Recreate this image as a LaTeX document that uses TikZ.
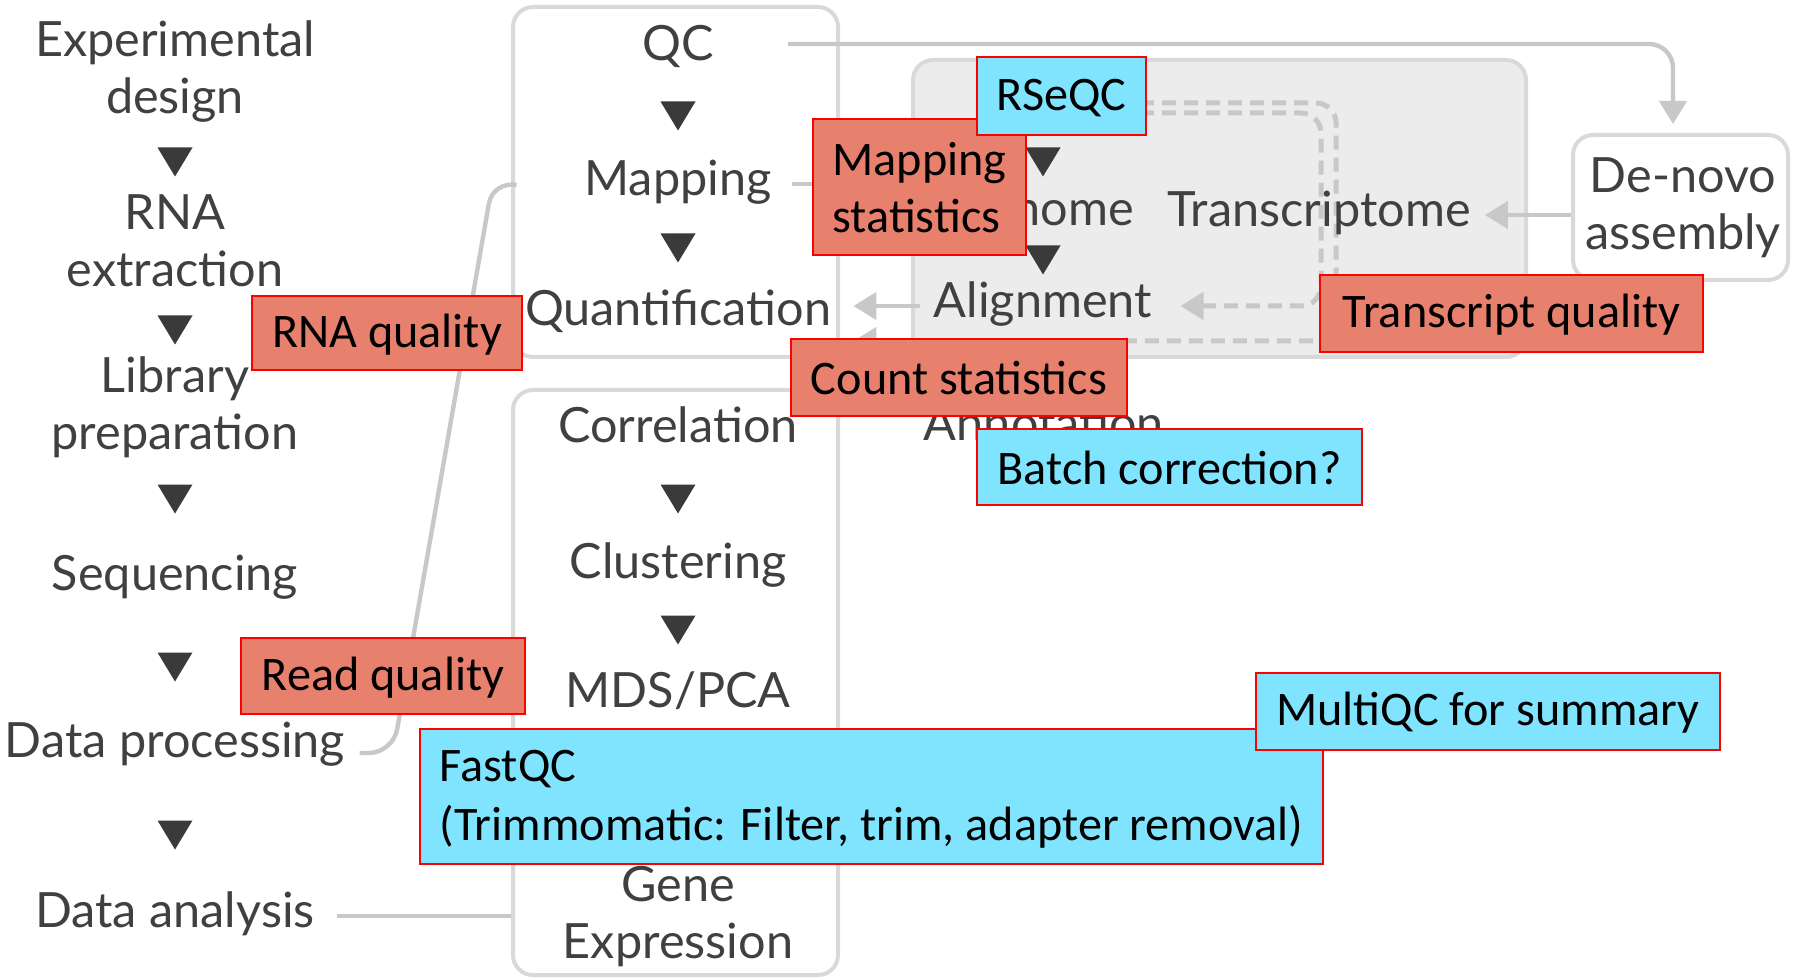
\documentclass[tikz,border=0pt]{standalone}
\usepackage{fontspec}
\setmainfont{Lato}
\newfontfamily\lblfont{Carlito}
\usetikzlibrary{arrows.meta}
\definecolor{txtgray}{HTML}{404040}
\definecolor{trigray}{HTML}{3A3A3A}
\definecolor{lngray}{HTML}{C8C8C8}
\definecolor{pnlborder}{HTML}{D9D9D9}
\definecolor{pnlfill}{HTML}{ECECEC}
\definecolor{salmon}{HTML}{E8806E}
\definecolor{skyc}{HTML}{80E4FF}
\definecolor{boxred}{HTML}{FF0000}
\pgfdeclarelayer{panels}
\pgfdeclarelayer{dashes}
\pgfsetlayers{panels,dashes,main}
\newcommand\lstrut{\rule[-0.6pt]{0pt}{18.6pt}}
\tikzset{dtri/.pic={\fill[trigray] (-17.5,-14.5) -- (17.5,-14.5) -- (0,14.5) -- cycle;}}
\begin{document}
\begin{tikzpicture}[x=0.5pt,y=-0.5pt,
  gtext/.style={text=txtgray, font=\fontsize{24.3}{28.5}\selectfont, align=center, inner sep=7pt},
  panel/.style={draw=pnlborder, line width=2pt, rounded corners=10pt, inner sep=0pt},
  lab/.style={draw=boxred, line width=1.3pt, text=black, font=\lblfont\fontsize{24.1}{28.5}\selectfont, inner sep=0pt, align=center},
  redlab/.style={lab, fill=salmon},
  bluelab/.style={lab, fill=skyc},
  conn/.style={draw=lngray, line width=2.2pt},
  arr/.style={conn, -{Triangle[length=11.5pt,width=13.5pt]}},
  dconn/.style={arr, dash pattern=on 7pt off 4pt, line width=2.5pt}
]
\useasboundingbox (0,0) rectangle (1798,978);

% panels
\begin{pgfonlayer}{panels}
\node[panel, minimum width=162.5pt, minimum height=175pt] (qcbox) at (675.5,182) {};
\node[panel, minimum width=162.5pt, minimum height=292.5pt] (anbox) at (675.5,682.5) {};
\node[panel, fill=pnlfill, minimum width=306.5pt, minimum height=148.5pt] (gbox) at (1219.5,208.5) {};
\node[panel, fill=white, minimum width=107.5pt, minimum height=72.5pt] (dnbox) at (1680.5,207.5) {};
\end{pgfonlayer}

% left column
\node[gtext] (expd) at (175,74) {\strut Experimental\\\strut design};
\pic at (175,162) {dtri};
\node[gtext] (rna) at (175,247) {\strut RNA\\\strut extraction};
\pic at (175,330) {dtri};
\node[gtext] (lib) at (175,410) {\strut Library\\\strut preparation};
\pic at (175,499) {dtri};
\node[gtext] (seq) at (175,579) {\strut Sequencing};
\pic at (175,667) {dtri};
\node[gtext] (dp) at (175,746) {\strut Data processing};
\pic at (175,835) {dtri};
\node[gtext] (da) at (175,916) {\strut Data analysis};

% middle column
\node[gtext] (qc) at (678,49) {\strut QC};
\pic at (678,116) {dtri};
\node[gtext] (mapping) at (678,184) {\strut Mapping};
\pic at (678,248) {dtri};
\node[gtext] (quant) at (678,314) {\strut Quantification};
\node[gtext] (corr) at (678,431) {\strut Correlation};
\pic at (678,499) {dtri};
\node[gtext] (clust) at (678,567) {\strut Clustering};
\pic at (678,630) {dtri};
\node[gtext] (mds) at (678,696) {\strut MDS/PCA};
\node[gtext] (gene) at (678,919) {\strut Gene\\\strut Expression};

% grey panel
\node[gtext] (genome) at (1043,214) {\strut Genome};
\node[gtext] (transc) at (1319,215) {\strut Transcriptome};
\pic at (1043,162) {dtri};
\pic at (1043,260) {dtri};
\node[gtext] (alignm) at (1043,306) {\strut Alignment};
\node[gtext] (annot) at (1044,429) {\strut Annotation};

% de-novo
\node[gtext] (denovo) at (1683,210) {\strut De-novo\\\strut assembly};

% connectors
\coordinate (qtip) at ([xshift=4pt]quant.east);
\coordinate (y341) at (0,341);
\coordinate (d1start) at (1140,113);
\coordinate (d2start) at (1140,103);
\coordinate (qcs) at ([xshift=30pt,yshift=2.5pt]qc.east);
\coordinate (qcdown) at (1673,0);

\draw[conn, rounded corners=12pt] ([yshift=-3.5pt]dp.east) -- (393,753) -- (493,180) -- (qcbox.west |- mapping.west);
\draw[conn] ([xshift=3pt]mapping.east) -- (gbox.west |- mapping.east);
\draw[arr, rounded corners=12pt] (qcs) -- (qcs -| qcdown) -- ([yshift=4.5pt]dnbox.north -| qcdown);
\draw[arr] (dnbox.west |- transc.east) -- (transc.east);
\draw[arr] (alignm.west) -- (alignm.west -| qtip);
\draw[conn] ([xshift=4pt]da.east) -- (anbox.west |- da.east);
\begin{pgfonlayer}{dashes}
\draw[dconn, rounded corners=10pt] (d1start) -- (1321,113) -- (1321,306) -- ([xshift=7pt]alignm.east);
\draw[dconn, rounded corners=10pt] (d2start) -- (1336,103) -- (1336,341) -- (qtip |- y341);
\end{pgfonlayer}

% labels
\node[redlab, minimum width=106.5pt, minimum height=68pt, align=left] (mapst) at (919.5,187) {\lstrut Mapping\\\lstrut statistics};
\node[bluelab, minimum width=84.5pt, minimum height=39pt] (rseqc) at (1061.5,96) {\lstrut RSeQC};
\node[redlab, minimum width=191.5pt, minimum height=38.5pt] (trq) at (1511.5,313.5) {\lstrut Transcript quality};
\node[redlab, minimum width=168pt, minimum height=38.5pt] (cnt) at (959,377.5) {\lstrut Count statistics};
\node[redlab, minimum width=135pt, minimum height=37pt] (rnaq) at (387,333) {\lstrut RNA quality};
\node[bluelab, minimum width=192.5pt, minimum height=38pt] (batch) at (1169.5,467) {\lstrut Batch correction?};
\node[redlab, minimum width=142pt, minimum height=38pt] (readq) at (383,676) {\lstrut Read quality};
\node[bluelab, minimum width=451.5pt, minimum height=67.5pt, align=left, font=\lblfont\fontsize{24.1}{29.5}\selectfont] (fastqc) at (871.5,796.5) {\lstrut FastQC\\\lstrut (Trimmomatic: Filter, trim, adapter removal)};
\node[bluelab, minimum width=232pt, minimum height=38.5pt] (multiqc) at (1488,711.5) {\lstrut MultiQC for summary};
\end{tikzpicture}
\end{document}
